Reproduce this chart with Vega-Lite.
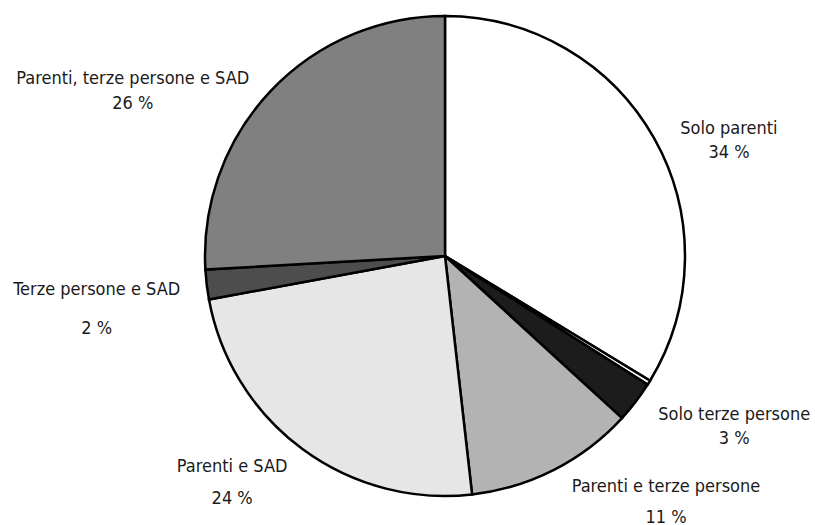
{
  "$schema": "https://vega.github.io/schema/vega-lite/v6.json",
  "width": 740,
  "height": 512,
  "autosize": "none",
  "padding": {"left": 75, "top": 0, "right": 0, "bottom": 13},
  "background": "white",
  "view": {"stroke": null},
  "config": {
    "text": {"font": "DejaVu Sans Condensed, sans-serif", "fontSize": 18, "lineBreak": "\n", "align": "center", "baseline": "middle", "color": "#1a1a1a"}
  },
  "data": {
    "values": [
      {"seq": 1, "gruppo": "Solo parenti", "pct": 33.7},
      {"seq": 2, "gruppo": "Altro", "pct": 0.3},
      {"seq": 3, "gruppo": "Solo terze persone", "pct": 2.8},
      {"seq": 4, "gruppo": "Parenti e terze persone", "pct": 11.4},
      {"seq": 5, "gruppo": "Parenti e SAD", "pct": 23.9},
      {"seq": 6, "gruppo": "Terze persone e SAD", "pct": 2.0},
      {"seq": 7, "gruppo": "Parenti, terze persone e SAD", "pct": 25.9}
    ]
  },
  "transform": [
    {"calculate": "datum.gruppo == 'Altro' ? '' : datum.gruppo + '\\n' + format(datum.pct, '.0f') + ' %'", "as": "etichetta"}
  ],
  "encoding": {
    "theta": {"field": "pct", "type": "quantitative", "stack": true},
    "order": {"field": "seq", "type": "quantitative"}
  },
  "layer": [
    {
      "mark": {"type": "arc", "radius": 240, "stroke": "black", "strokeWidth": 2.5, "strokeJoin": "miter"},
      "encoding": {
        "color": {
          "field": "gruppo",
          "type": "nominal",
          "scale": {
            "domain": ["Solo parenti", "Altro", "Solo terze persone", "Parenti e terze persone", "Parenti e SAD", "Terze persone e SAD", "Parenti, terze persone e SAD"],
            "range": ["#ffffff", "#ffffff", "#1c1c1c", "#b3b3b3", "#e6e6e6", "#4d4d4d", "#808080"]
          },
          "legend": null
        }
      }
    },
    {
      "mark": {"type": "text", "radius": 311, "thetaOffset": 0.092, "lineHeight": 24},
      "encoding": {"text": {"condition": {"test": "datum.gruppo == 'Solo parenti'", "field": "etichetta"}, "value": ""}}
    },
    {
      "mark": {"type": "text", "radius": 330, "thetaOffset": -0.151, "lineHeight": 24},
      "encoding": {"text": {"condition": {"test": "datum.gruppo == 'Solo terze persone'", "field": "etichetta"}, "value": ""}}
    },
    {
      "mark": {"type": "text", "radius": 320, "thetaOffset": -0.291, "lineHeight": 31},
      "encoding": {"text": {"condition": {"test": "datum.gruppo == 'Parenti e terze persone'", "field": "etichetta"}, "value": ""}}
    },
    {
      "mark": {"type": "text", "radius": 300, "thetaOffset": 0.151, "lineHeight": 32},
      "encoding": {"text": {"condition": {"test": "datum.gruppo == 'Parenti e SAD'", "field": "etichetta"}, "value": ""}}
    },
    {
      "mark": {"type": "text", "radius": 350, "thetaOffset": 0.021, "lineHeight": 39},
      "encoding": {"text": {"condition": {"test": "datum.gruppo == 'Terze persone e SAD'", "field": "etichetta"}, "value": ""}}
    },
    {
      "mark": {"type": "text", "radius": 359, "thetaOffset": -0.241, "lineHeight": 25},
      "encoding": {"text": {"condition": {"test": "datum.gruppo == 'Parenti, terze persone e SAD'", "field": "etichetta"}, "value": ""}}
    }
  ]
}
